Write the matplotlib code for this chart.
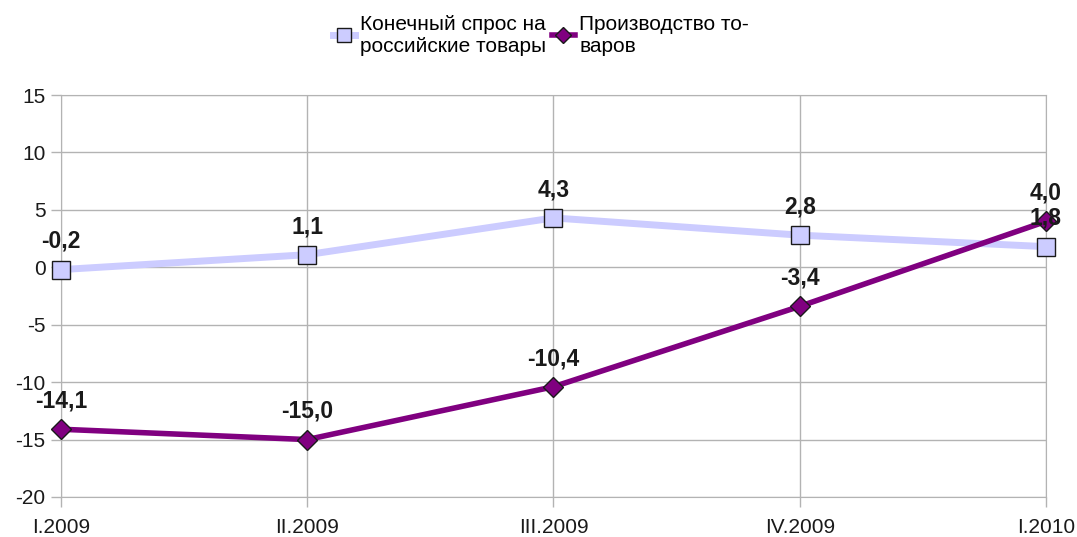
import matplotlib
matplotlib.use("Agg")
import matplotlib.pyplot as plt

plt.rcParams['font.family'] = ['Liberation Sans', 'DejaVu Sans']
plt.rcParams['axes.unicode_minus'] = False

# данные
quarters = ['I.2009', 'II.2009', 'III.2009', 'IV.2009', 'I.2010']
demand = [-0.2, 1.1, 4.3, 2.8, 1.8]
production = [-14.1, -15.0, -10.4, -3.4, 4.0]
demand_label = 'Конечный спрос на\nроссийские товары'
production_label = 'Производство то-\nваров'

fig = plt.figure(figsize=(10.77, 5.37), dpi=100)
ax = fig.add_axes([0.0566, 0.0745, 0.9146, 0.7485])

x = list(range(len(quarters)))
ax.plot(x, demand, color='#ccccff', linewidth=5, marker='s', markersize=13,
        markerfacecolor='#ccccff', markeredgecolor='#1a1a1a', markeredgewidth=1,
        label=demand_label, zorder=3, clip_on=False)
ax.plot(x, production, color='#800080', linewidth=4, marker='D', markersize=10,
        markerfacecolor='#800080', markeredgecolor='#1a1a1a', markeredgewidth=1,
        label=production_label, zorder=4, clip_on=False)

def fmt(v):
    return ('%.1f' % v).replace('.', ',')

for xi, v in zip(x, demand):
    ax.annotate(fmt(v), (xi, v), xytext=(0, 12), textcoords='offset points',
                ha='center', va='bottom', fontsize=16.5, fontweight='bold', color='#1a1a1a', zorder=6)
for xi, v in zip(x, production):
    ax.annotate(fmt(v), (xi, v), xytext=(0, 12), textcoords='offset points',
                ha='center', va='bottom', fontsize=16.5, fontweight='bold', color='#1a1a1a', zorder=6)

ax.set_xlim(0, len(quarters) - 1)
ax.set_ylim(-20, 15)
ax.set_yticks(range(-20, 16, 5))
ax.set_xticks(x)
ax.set_xticklabels(quarters)
ax.grid(True, color='#b3b3b3', linewidth=1)
ax.set_axisbelow(True)
for s in ax.spines.values():
    s.set_color('#b3b3b3')
ax.tick_params(axis='both', colors='#b3b3b3', labelcolor='#1a1a1a', labelsize=15,
               length=7, width=1)
ax.tick_params(axis='x', pad=8)
ax.tick_params(axis='y', pad=4)

fig.legend(loc='upper center', bbox_to_anchor=(0.502, 1.0), ncol=2, frameon=False,
           fontsize=15, handlelength=1.1, handletextpad=0.2, columnspacing=0.3,
           markerscale=0.8, borderpad=0.2)

fig.savefig('out.png', dpi=100)
